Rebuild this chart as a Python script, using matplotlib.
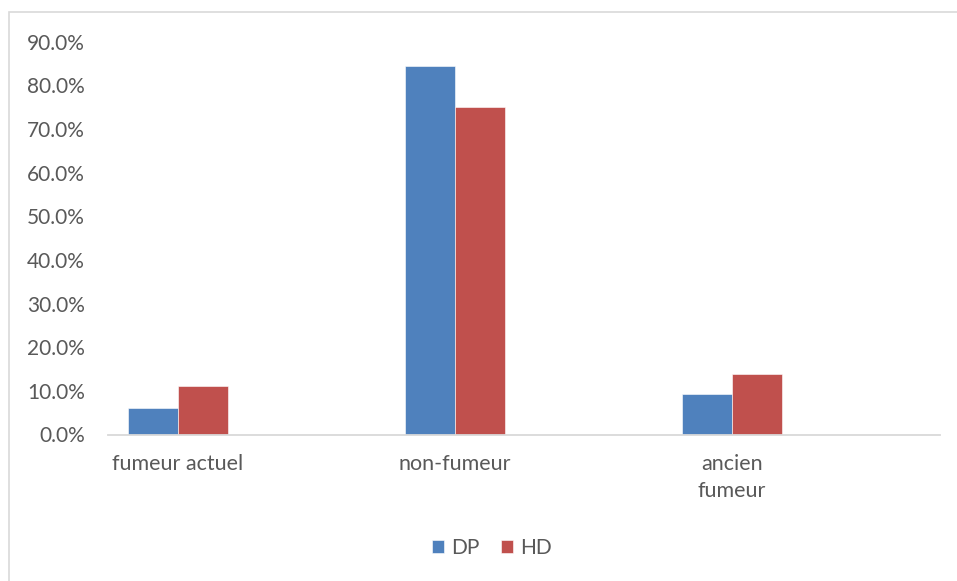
import matplotlib.pyplot as plt
import numpy as np
from matplotlib.patches import Rectangle
from matplotlib.ticker import FuncFormatter

categories = ["fumeur actuel", "non-fumeur", "ancien\nfumeur"]
dp = [6.1, 84.5, 9.3]
hd = [11.1, 75.1, 13.8]

BLUE = "#4f81bd"
RED = "#c0504d"
GREY_TXT = "#595959"

plt.rcParams["font.family"] = ["Lato", "DejaVu Sans"]

fig = plt.figure(figsize=(9.57, 5.81), dpi=100)
ax = fig.add_axes([108 / 957, 146.5 / 581, 832 / 957, 392.8 / 581])

x = np.arange(len(categories))
w = 0.18
ax.bar(x - w / 2, dp, w, color=BLUE, edgecolor="white", linewidth=0.4, label="DP")
ax.bar(x + w / 2, hd, w, color=RED, edgecolor="white", linewidth=0.4, label="HD")

# 277 px per category, first group centred 70 px right of the axis start
ax.set_xlim(-70 / 277, 2 + 208 / 277)
ax.set_ylim(0, 90)
ax.set_yticks(np.arange(0, 91, 10))
ax.yaxis.set_major_formatter(FuncFormatter(lambda v, p: f"{v:.1f}%"))
ax.set_xticks(x)
ax.set_xticklabels(categories, linespacing=1.45)

for s in ["top", "right", "left"]:
    ax.spines[s].set_visible(False)
ax.spines["bottom"].set_color("#d9d9d9")
ax.spines["bottom"].set_linewidth(1.3)
ax.tick_params(axis="both", length=0, labelsize=15, colors=GREY_TXT)
ax.tick_params(axis="x", labelsize=15.5)
ax.tick_params(axis="y", pad=16.5)
ax.tick_params(axis="x", pad=14)

leg = fig.legend(loc="center", bbox_to_anchor=(492 / 957, 1 - 548 / 581), ncol=2,
                 frameon=False, fontsize=15, handlelength=0.6, handleheight=0.6,
                 handletextpad=0.35, columnspacing=1.0)
for t in leg.get_texts():
    t.set_color(GREY_TXT)

# chart area border
fig.patches.append(Rectangle((8.5 / 957, -0.1), 1.2, 1 - 11.5 / 581 + 0.1,
                             transform=fig.transFigure, fill=False,
                             edgecolor="#d9d9d9", linewidth=1.2))

fig.savefig("out.png", dpi=100)
